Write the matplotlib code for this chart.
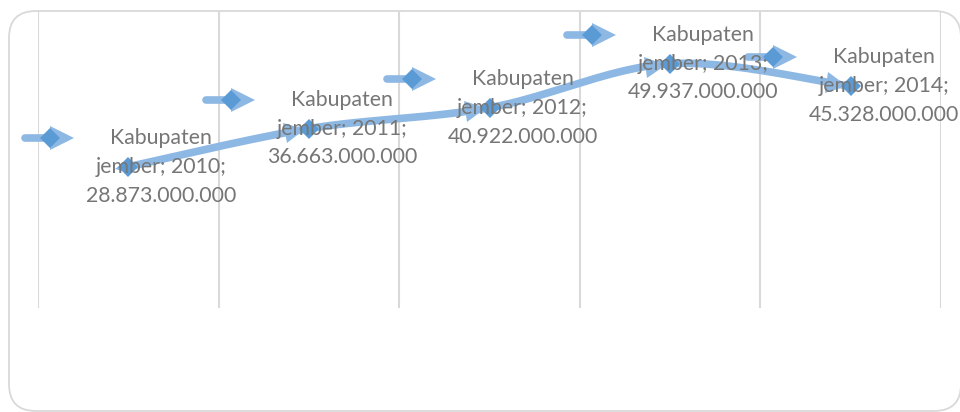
import matplotlib.pyplot as plt
import numpy as np
from matplotlib.patches import FancyBboxPatch
from matplotlib.markers import MarkerStyle
from matplotlib.transforms import Affine2D

plt.rcParams['font.family'] = ['Lato', 'DejaVu Sans']

region = ["Kabupaten", "jember"]
years = ["2010", "2011", "2012", "2013", "2014"]
values = [28873000000, 36663000000, 40922000000, 49937000000, 45328000000]
value_labels = ["28.873.000.000", "36.663.000.000", "40.922.000.000",
                "49.937.000.000", "45.328.000.000"]

line_col = '#8db8e4'
mark_col = '#5b9bd5'
grid_col = '#d9d9d9'
text_col = '#767676'

fig = plt.figure(figsize=(9.6, 4.12), dpi=100)

# rounded chart border
border = FancyBboxPatch((9 / 960, 1 / 412), 952 / 960, 400 / 412,
                        boxstyle="round,pad=0,rounding_size=0.028",
                        transform=fig.transFigure, facecolor='none',
                        edgecolor=grid_col, linewidth=1.3, mutation_aspect=960 / 412,
                        zorder=-1)
fig.patches.append(border)

ax = fig.add_axes([38 / 960, 1 - 308 / 412, 903 / 960, 297 / 412])
ax.set_facecolor('none')

x = np.arange(len(years)) + 0.5
y = np.array(values) / 1e9

ax.set_xlim(0, len(years))
ax.set_ylim(0, 60.7)
for gx in range(len(years) + 1):
    ax.axvline(gx, color=grid_col, lw=1.5, zorder=0)
for s in ax.spines.values():
    s.set_visible(False)
ax.set_xticks([])
ax.set_yticks([])

# smoothed line (catmull-rom through the points)
px = np.concatenate([[x[0]], x, [x[-1]]])
py = np.concatenate([[y[0]], y, [y[-1]]])
n = 40
t = np.linspace(0, 1, n)
sx, sy = [], []
for i in range(1, len(px) - 2):
    for p, out in ((px, sx), (py, sy)):
        p0, p1, p2, p3 = p[i - 1], p[i], p[i + 1], p[i + 2]
        out.append(0.5 * (2 * p1 + (-p0 + p2) * t + (2 * p0 - 5 * p1 + 4 * p2 - p3) * t ** 2
                          + (-p0 + 3 * p1 - 3 * p2 + p3) * t ** 3))
sx = np.concatenate(sx)
sy = np.concatenate(sy)
ax.plot(sx, sy, color=line_col, lw=5.5, solid_capstyle='round', zorder=2)

fig.canvas.draw()
disp = ax.transData.transform(np.column_stack([sx, sy]))
pts = ax.transData.transform(np.column_stack([x, y]))

# arrow heads along the line, just before each point
for i in range(1, len(x)):
    k = i * n - 3
    d = disp[k] - disp[k - 4]
    ang = np.arctan2(d[1], d[0])
    m = MarkerStyle('>', transform=Affine2D().rotate(ang))
    ax.plot(pts[i, 0] - 14 * np.cos(ang), pts[i, 1] - 14 * np.sin(ang), marker=m,
            ms=15, color=line_col, markeredgewidth=0, transform=None, zorder=3)
d = disp[3] - disp[0]
ang = np.arctan2(d[1], d[0]) + np.pi
m = MarkerStyle('>', transform=Affine2D().rotate(ang))
ax.plot(pts[0, 0] + 6 * np.cos(ang), pts[0, 1] + 6 * np.sin(ang), marker=m,
        ms=10, color=line_col, markeredgewidth=0, transform=None, zorder=3)

ax.plot(x, y, 'D', color=mark_col, ms=10, markeredgewidth=0, zorder=4)

# shifted copies of the series symbol
for i in range(len(x)):
    cx, cy = pts[i, 0] - 78, pts[i, 1] + 29
    ax.plot([cx - 25, cx + 4], [cy, cy], color=line_col, lw=5.5,
            solid_capstyle='round', transform=None, zorder=2, clip_on=False)
    ax.plot(cx + 12, cy, '>', ms=17, color=line_col, markeredgewidth=0,
            transform=None, zorder=2, clip_on=False)
    ax.plot(cx, cy, 'D', ms=10, color=mark_col, markeredgewidth=0,
            transform=None, zorder=4, clip_on=False)

# data labels
for i in range(len(x)):
    ax.annotate(f"{region[0]}\n{region[1]}; {years[i]};\n{value_labels[i]}",
                xy=(x[i], y[i]), xytext=(33, 0), textcoords='offset pixels',
                ha='center', va='center', multialignment='center',
                fontsize=15.3, color=text_col, linespacing=1.55, zorder=5,
                annotation_clip=False)

fig.savefig('out.png', dpi=100)
